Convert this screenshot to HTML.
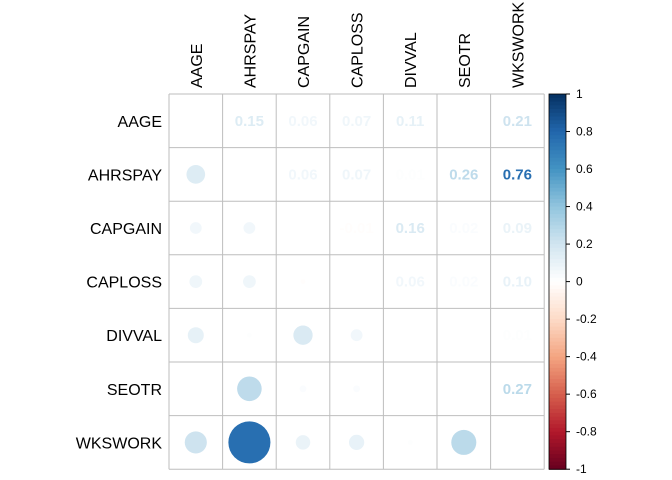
<!DOCTYPE html>
<html><head><meta charset="utf-8"><style>body{margin:0;background:#fff}svg{display:block}text{font-family:"Liberation Sans",Arial,sans-serif}</style></head>
<body>
<svg id="c" width="672" height="480"></svg>
<script>
const labels=["AAGE","AHRSPAY","CAPGAIN","CAPLOSS","DIVVAL","SEOTR","WKSWORK"];
const row0=[1,0.15,0.06,0.07,0.11,0.00,0.21];
const row1=[0.15,1,0.06,0.07,0.01,0.26,0.76];
const row2=[0.06,0.06,1,-0.01,0.16,0.02,0.09];
const row3=[0.07,0.07,-0.01,1,0.06,0.02,0.10];
const row4=[0.11,0.01,0.16,0.06,1,0.00,0.01];
const row5=[0.00,0.26,0.02,0.02,0.00,1,0.27];
const row6=[0.21,0.76,0.09,0.10,0.01,0.27,1];
const matrix=[row0,row1,row2,row3,row4,row5,row6];
const ticks=[1,0.8,0.6,0.4,0.2,0,-0.2,-0.4,-0.6,-0.8,-1];
const pal=["#67001F","#B2182B","#D6604D","#F4A582","#FDDBC7","#FFFFFF","#D1E5F0","#92C5DE","#4393C3","#2166AC","#053061"];
const NS="http://www.w3.org/2000/svg";
const svg=document.getElementById('c');
const x0=169,y0=94,cell=53.6,n=7;
function h2r(h){return [1,3,5].map(i=>parseInt(h.substr(i,2),16));}
function color(v){const t=(v+1)/2*(pal.length-1);const i=Math.min(Math.floor(t),pal.length-2);const f=t-i;const a=h2r(pal[i]),b=h2r(pal[i+1]);return "rgb("+a.map((c,k)=>Math.round(c+(b[k]-c)*f)).join(",")+")";}
function mk(tag,attrs){const e=document.createElementNS(NS,tag);for(const k in attrs)e.setAttribute(k,attrs[k]);svg.appendChild(e);return e;}
for(let i=0;i<n;i++)for(let j=0;j<n;j++){
 const cx=x0+j*cell+cell/2,cy=y0+i*cell+cell/2,v=matrix[i][j];
 if(i>j){const c=mk('circle',{cx:cx,cy:cy,r:Math.sqrt(Math.abs(v))*cell/2*0.9,fill:color(v)});
  
  }
 else if(i<j){const t=mk('text',{x:cx,y:cy+5,'text-anchor':'middle','font-size':'15','font-weight':'bold',fill:color(v)});
  t.textContent=v.toFixed(2);
  
  }
}
for(let k=0;k<=n;k++){
 mk('line',{x1:x0+k*cell,x2:x0+k*cell,y1:y0,y2:y0+n*cell,stroke:'#bebebe','stroke-width':1});
 mk('line',{y1:y0+k*cell,y2:y0+k*cell,x1:x0,x2:x0+n*cell,stroke:'#bebebe','stroke-width':1});
}
labels.forEach((l,i)=>{
 const r=mk('text',{x:162,y:y0+i*cell+cell/2+6,'text-anchor':'end','font-size':'16',fill:'#000'});r.textContent=l;
 
 
 const cx=x0+i*cell+cell/2+6;
 const c=mk('text',{x:0,y:0,'font-size':'16',fill:'#000',transform:'translate('+cx+',88) rotate(-90)'});c.textContent=l;
 
 
});
const bx=549,bw=17,btop=y0,bh=n*cell,steps=100;
for(let s=0;s<steps;s++){const v=1-2*(s+0.5)/steps;
 mk('rect',{x:bx,y:btop+s*bh/steps,width:bw,height:bh/steps+0.6,fill:color(v)});}
mk('rect',{x:bx,y:btop,width:bw,height:bh,fill:'none',stroke:'#000','stroke-width':0.8});
ticks.forEach(t=>{const y=btop+(1-t)/2*bh;
 mk('line',{x1:bx+bw,x2:bx+bw+4,y1:y,y2:y,stroke:'#000'});
 const tx=mk('text',{x:576,y:y+4,'font-size':'12',fill:'#000'});tx.textContent=String(t);
 
 
});
</script>
</body></html>
